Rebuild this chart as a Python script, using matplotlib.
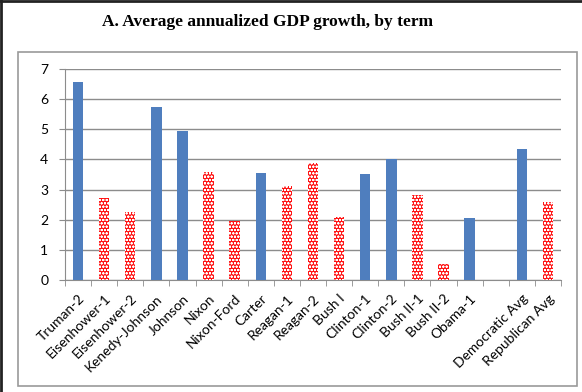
import matplotlib
matplotlib.use('Agg')
import matplotlib.pyplot as plt
from matplotlib.patches import Rectangle
import numpy as np

plt.rcParams.update({
    'font.family': 'Lato',
    'hatch.linewidth': 0.6,
})

terms = ['Truman-2', 'Eisenhower-1', 'Eisenhower-2', 'Kenedy-Johnson', 'Johnson',
         'Nixon', 'Nixon-Ford', 'Carter', 'Reagan-1', 'Reagan-2', 'Bush I',
         'Clinton-1', 'Clinton-2', 'Bush II-1', 'Bush II-2', 'Obama-1', '',
         'Democratic Avg', 'Republican Avg']
growth = [6.56, 2.73, 2.27, 5.73, 4.94, 3.58, 1.97, 3.54, 3.12, 3.88, 2.08,
          3.52, 4.03, 2.81, 0.54, 2.05, 0.0, 4.35, 2.58]
party = ['D', 'R', 'R', 'D', 'D', 'R', 'R', 'D', 'R', 'R', 'R',
         'D', 'D', 'R', 'R', 'D', '', 'D', 'R']

blue = '#4F7EBE'
red = '#FF1010'

fig = plt.figure(figsize=(5.82, 3.92), dpi=100)

# outer frame (left/top dark edge) and inner chart box
fig.add_artist(plt.Line2D([0.002, 0.002], [0, 1], color='#222222', lw=2, transform=fig.transFigure))
fig.add_artist(plt.Line2D([0, 1], [0.998, 0.998], color='#222222', lw=2, transform=fig.transFigure))
fig.add_artist(Rectangle((18/582, 1-386/392), (577-18)/582, (386-52)/392,
                         transform=fig.transFigure, fill=False, ec='#9a9a9a', lw=1.2))

fig.text(268/582, 1-22/392, 'A. Average annualized GDP growth, by term',
         ha='center', va='center', fontsize=12.5, fontweight='bold',
         family='Liberation Serif')

ax = fig.add_axes([65/582, 1-280/392, 496/582, 211/392])
x = np.arange(len(terms))
for i, (v, p) in enumerate(zip(growth, party)):
    if p == 'D':
        ax.bar(i, v, width=0.4, color=blue, zorder=3)
    elif p == 'R':
        ax.bar(i, v, width=0.4, facecolor=red, edgecolor='white', hatch='ooooo',
               linewidth=0, zorder=3)

ax.set_xlim(-0.5, len(terms) - 0.5)
ax.set_ylim(0, 7)
ax.set_yticks(range(8))
ax.yaxis.grid(True, color='#8c8c8c', lw=1, zorder=0)
ax.set_xticks(x)
ax.set_xticklabels(terms, rotation=45, ha='right', rotation_mode='anchor', fontsize=10)
ax.set_xticks(np.arange(-0.5, len(terms)), minor=True)
ax.tick_params(axis='x', which='major', length=0, pad=9)
ax.tick_params(axis='x', which='minor', length=4, color='#8c8c8c')
ax.tick_params(axis='y', length=4, color='#8c8c8c', labelsize=10, pad=8)
for s in ['top', 'right']:
    ax.spines[s].set_visible(False)
for s in ['left', 'bottom']:
    ax.spines[s].set_color('#8c8c8c')

fig.savefig('out.png', dpi=100)
